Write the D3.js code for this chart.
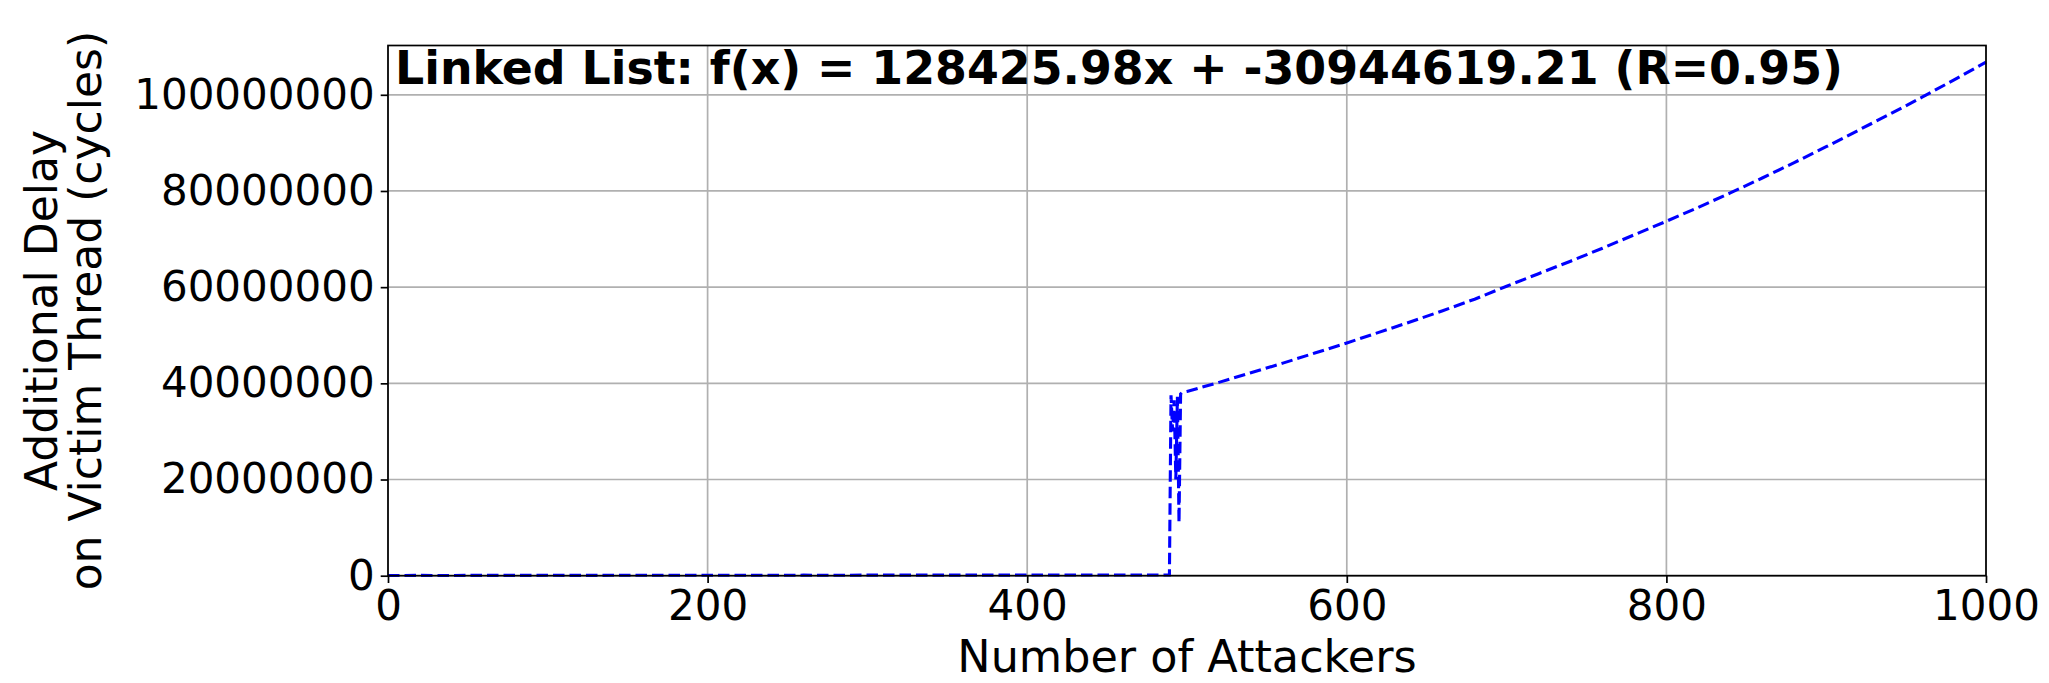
<!DOCTYPE html>
<html>
<head>
<meta charset="utf-8">
<script src="https://cdn.jsdelivr.net/npm/d3@7"></script>
<style>
  html, body { margin: 0; padding: 0; background: #fff; }
  svg { display: block; }
  text { font-family: "DejaVu Sans", sans-serif; }
</style>
</head>
<body>
<svg id="chart" width="2049" height="683"></svg>
<script>
// ---- data ----
const attackers = [0, 20, 40, 60, 80, 100, 120, 140, 160, 180, 200, 220, 240, 260, 280, 300, 320, 340, 360, 380, 400, 420, 440, 460, 480, 489,
  490, 491, 492, 493, 494, 495, 496, 497, 500,
  520, 540, 560, 580, 600, 620, 640, 660, 680, 700, 720, 740, 760, 780, 800, 820, 840, 860, 880, 900, 920, 940, 960, 980, 1000];
const delayMillions = [0.05, 0.06, 0.05, 0.07, 0.06, 0.08, 0.07, 0.08, 0.09, 0.08, 0.10, 0.09, 0.10, 0.11, 0.10, 0.12, 0.11, 0.12, 0.13, 0.12, 0.14, 0.13, 0.14, 0.15, 0.15, 0.16,
  37.5, 30.0, 36.5, 20.0, 37.2, 11.0, 37.8, 38.1, 38.3,
  40.2, 42.2, 44.2, 46.3, 48.4, 50.6, 52.8, 55.1, 57.5, 60.2, 62.8, 65.4, 68.1, 70.9, 73.7, 76.6, 79.6, 82.7, 85.9, 89.2, 92.6, 96.0, 99.5, 103.1, 106.8];
const xTicks = [0, 200, 400, 600, 800, 1000];
const yTicks = [0, 20000000, 40000000, 60000000, 80000000, 100000000];
const titleText = "Linked List: f(x) = 128425.98x + -30944619.21 (R=0.95)";
const xLabel = "Number of Attackers";
const yLabelLines = ["Additional Delay", "on Victim Thread (cycles)"];

(function () {
const data = attackers.map((a, i) => ({ x: a, y: delayMillions[i] * 1e6 }));

// ---- layout ----
const pL = 388, pR = 1986, pT = 45.5, pB = 575.7;
const svg = d3.select("#chart");

const x = d3.scaleLinear().domain([0, 1000]).range([pL, pR]);
const y = d3.scaleLinear().domain([0, 110250000]).range([pB, pT]);

// grid
const g = svg.append("g");
g.selectAll(".vgrid").data(xTicks).join("line")
  .attr("x1", d => x(d)).attr("x2", d => x(d))
  .attr("y1", pT).attr("y2", pB)
  .attr("stroke", "#b0b0b0").attr("stroke-width", 1.7);
g.selectAll(".hgrid").data(yTicks).join("line")
  .attr("x1", pL).attr("x2", pR)
  .attr("y1", d => y(d)).attr("y2", d => y(d))
  .attr("stroke", "#b0b0b0").attr("stroke-width", 1.7);

// line
const line = d3.line().x(d => x(d.x)).y(d => y(d.y));
svg.append("path").datum(data)
  .attr("d", line)
  .attr("fill", "none")
  .attr("stroke", "#0000ff")
  .attr("stroke-width", 3.1)
  .attr("stroke-dasharray", "11.5,5");

// axes
const xAxis = d3.axisBottom(x).tickValues(xTicks).tickSize(7.3).tickPadding(7).tickFormat(d3.format("d"));
const yAxis = d3.axisLeft(y).tickValues(yTicks).tickSize(7.3).tickPadding(6).tickFormat(d3.format("d"));

const gx = svg.append("g").attr("transform", `translate(0,${pB})`).call(xAxis);
const gy = svg.append("g").attr("transform", `translate(${pL},0)`).call(yAxis);
[gx, gy].forEach(ax => {
  ax.select(".domain").remove();
  ax.selectAll(".tick line").attr("stroke", "#000").attr("stroke-width", 1.7);
  ax.selectAll(".tick text").attr("fill", "#000").attr("font-size", 42)
    .attr("font-family", "DejaVu Sans");
});
gx.selectAll(".tick text").attr("dy", null).attr("y", 0).attr("transform", "translate(0,44.5)");

// frame
svg.append("rect").attr("x", pL).attr("y", pT)
  .attr("width", pR - pL).attr("height", pB - pT)
  .attr("fill", "none").attr("stroke", "#000").attr("stroke-width", 1.7);

// title inside axes
svg.append("text").attr("x", 395).attr("y", 84)
  .attr("font-size", 45.8).attr("font-weight", "bold").attr("fill", "#000")
  .text(titleText);

// x label
svg.append("text").attr("x", (pL + pR) / 2).attr("y", 672)
  .attr("text-anchor", "middle").attr("font-size", 44.5).attr("fill", "#000")
  .text(xLabel);

// y label (two lines)
const cy = (pT + pB) / 2;
const ylab = svg.append("text")
  .attr("transform", `translate(57,${cy}) rotate(-90)`)
  .attr("text-anchor", "middle").attr("font-size", 44).attr("fill", "#000");
ylab.selectAll("tspan").data(yLabelLines).join("tspan")
  .attr("x", 0).attr("dy", (d, i) => i === 0 ? 0 : 44)
  .text(d => d);
})();
</script>
</body>
</html>
